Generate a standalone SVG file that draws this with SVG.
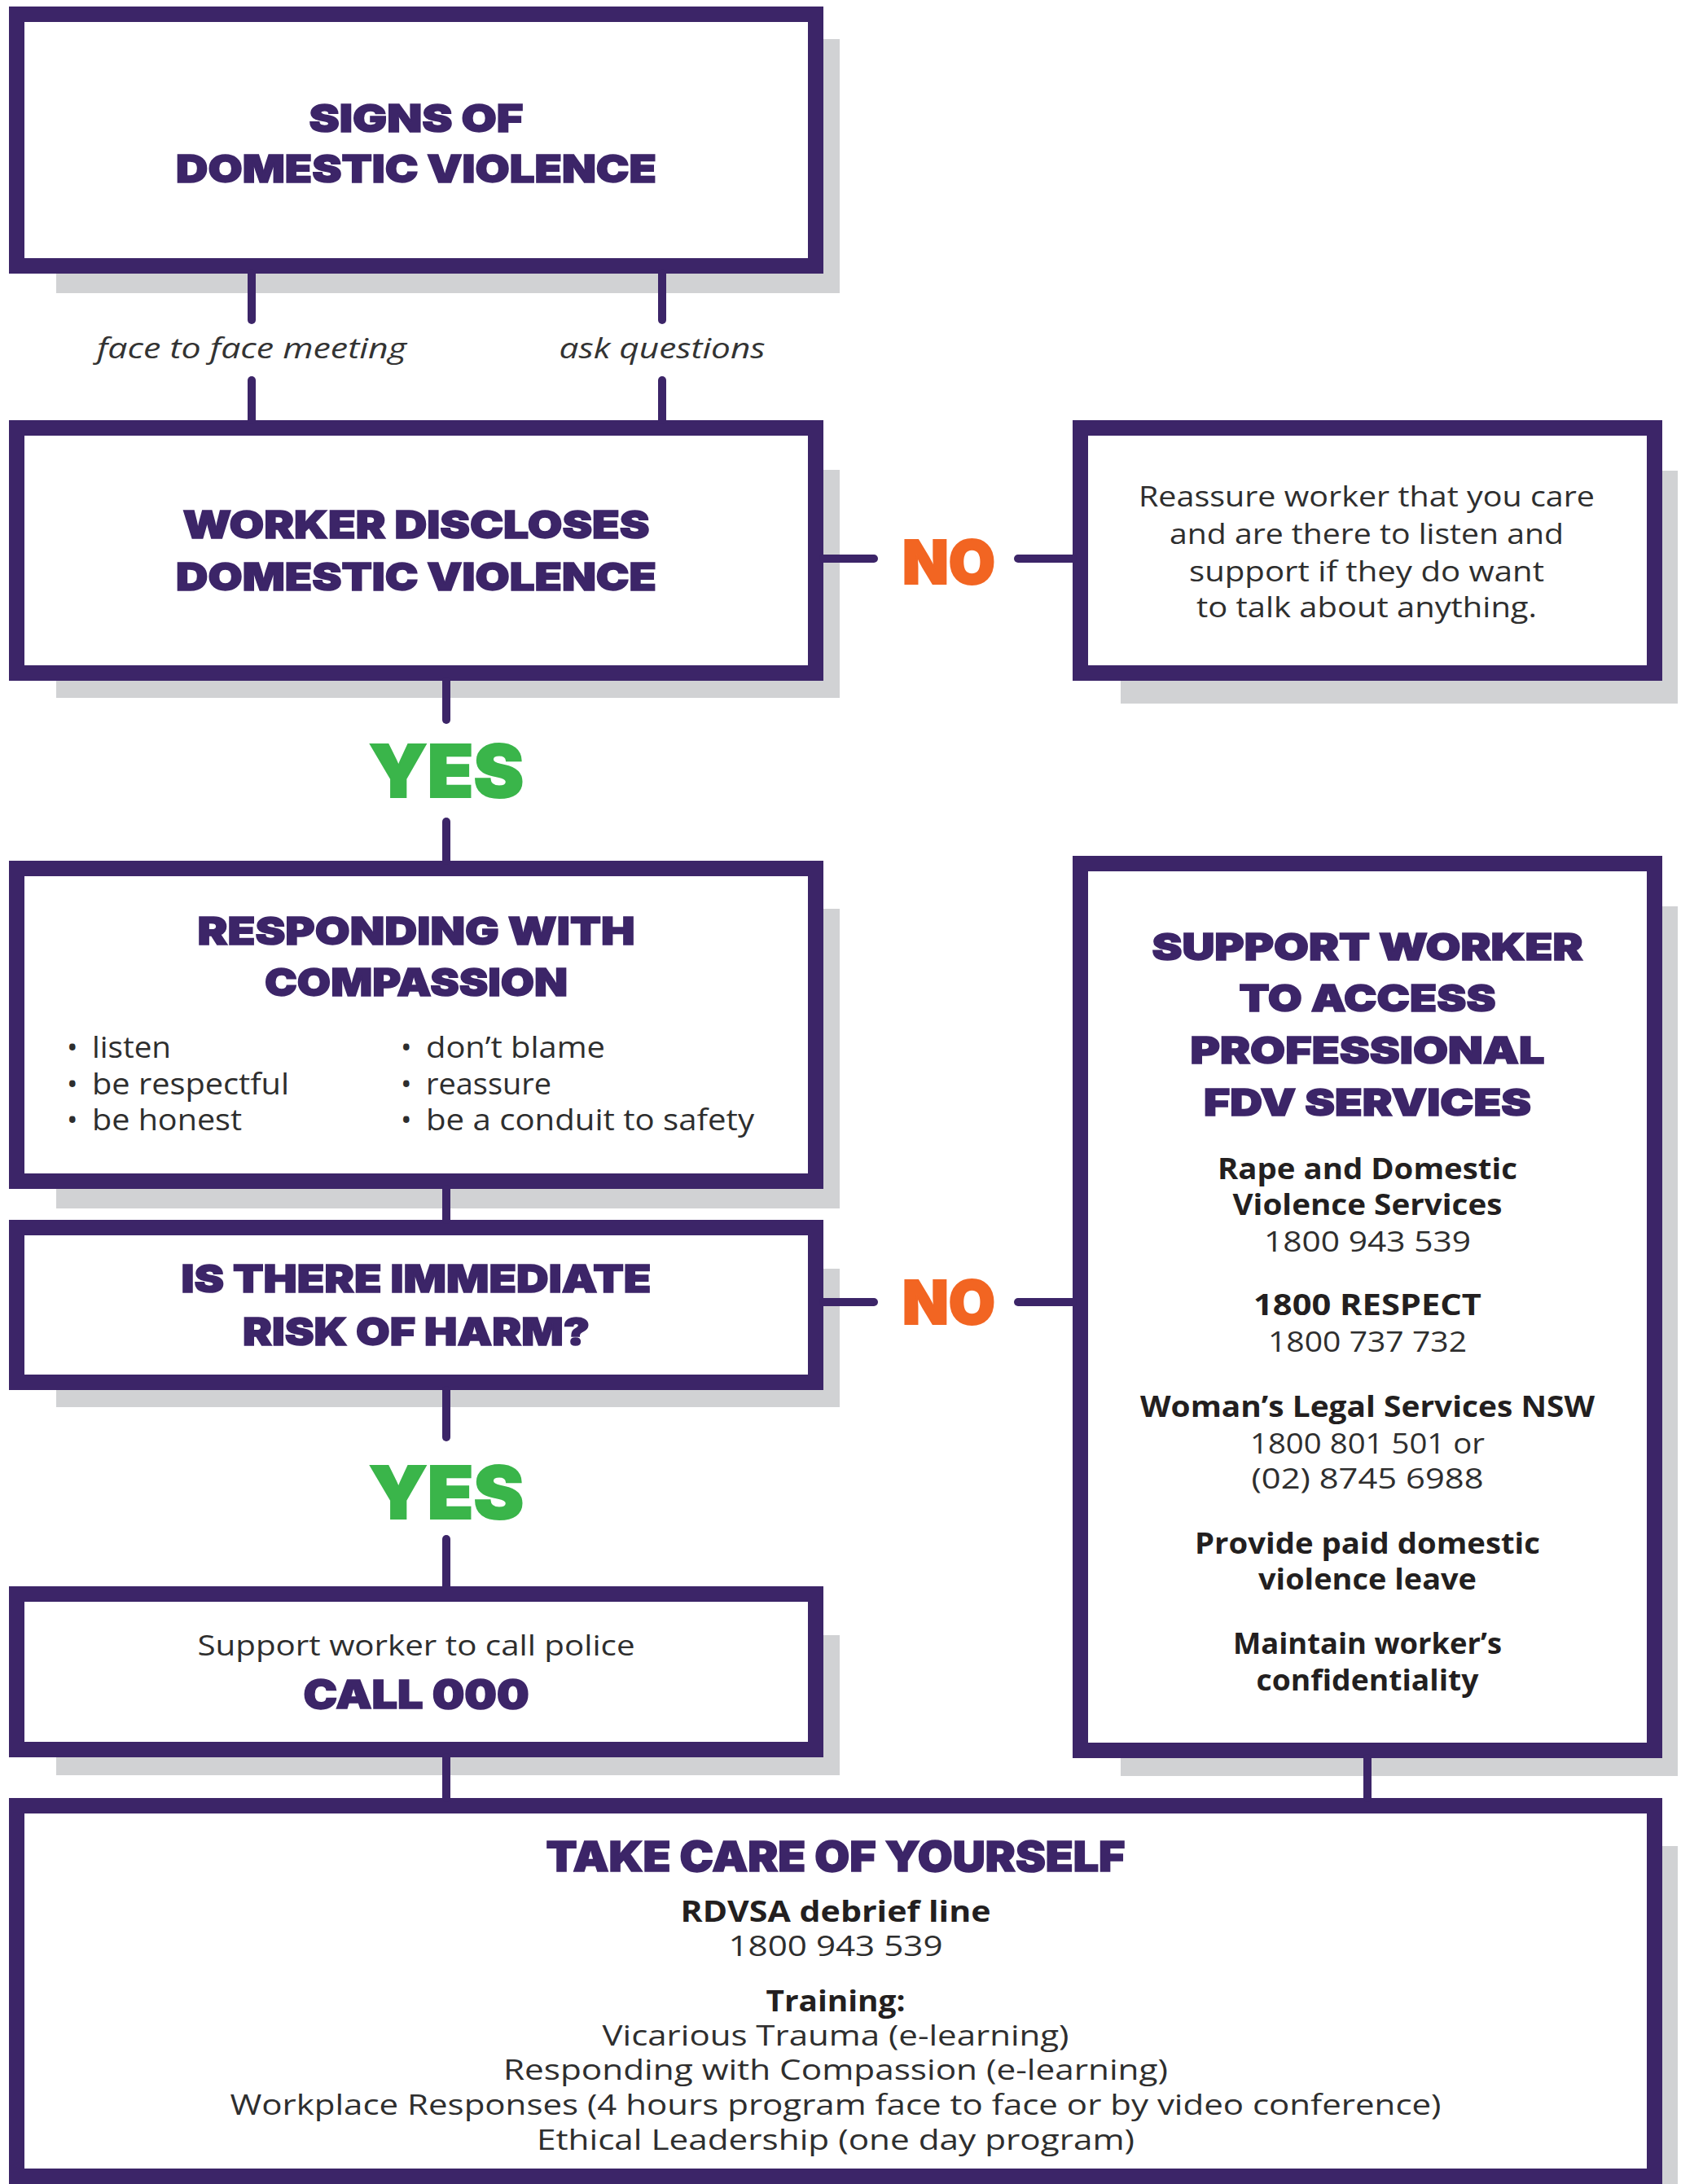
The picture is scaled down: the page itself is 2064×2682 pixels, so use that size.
<svg xmlns="http://www.w3.org/2000/svg" width="2064" height="2682" viewBox="0 0 2064 2682">
<style>
.bg{fill:#ffffff}
.sh{fill:#d1d2d4}
.box{fill:#ffffff;stroke:#3c2568;stroke-width:19}
.ln{stroke:#3c2568;stroke-width:10;stroke-linecap:round;fill:none}
.t{font-family:Inter,Lato,'Liberation Sans',sans-serif;font-weight:900;fill:#3c2568;stroke:#3c2568;stroke-width:1.5;text-anchor:middle}
.b{font-family:'Open Sans','Liberation Sans',sans-serif;font-size:35px;fill:#2e2e2e;text-anchor:middle}
.bb{font-family:'Open Sans','Liberation Sans',sans-serif;font-size:35px;font-weight:700;fill:#231f20;text-anchor:middle}
.bl{font-family:'Open Sans','Liberation Sans',sans-serif;font-size:36px;fill:#2e2e2e}
.it{font-family:'Open Sans','Liberation Sans',sans-serif;font-size:34px;font-style:italic;fill:#333333;text-anchor:middle}
.yes{font-family:Inter,Lato,'Liberation Sans',sans-serif;font-weight:900;font-size:89px;fill:#3ab54a;stroke:#3ab54a;stroke-width:2;text-anchor:middle}
.no{font-family:Inter,Lato,'Liberation Sans',sans-serif;font-weight:900;font-size:74px;fill:#f26522;stroke:#f26522;stroke-width:2;text-anchor:middle}
</style>
<rect class="bg" x="0" y="0" width="2064" height="2682"/>

<g id="node-signs">
<rect class="sh" x="69" y="48" width="962" height="312"/>
<rect class="box" x="20.5" y="17.5" width="981" height="309"/>
<text class="t" x="511" y="162" font-size="47" textLength="263" lengthAdjust="spacingAndGlyphs">SIGNS OF</text>
<text class="t" x="511" y="224" font-size="47" textLength="590" lengthAdjust="spacingAndGlyphs">DOMESTIC VIOLENCE</text>
</g>

<g id="node-discloses">
<rect class="sh" x="69" y="577" width="962" height="280"/>
<rect class="box" x="20.5" y="525.5" width="981" height="301"/>
<text class="t" x="511" y="661" font-size="47" textLength="573" lengthAdjust="spacingAndGlyphs">WORKER DISCLOSES</text>
<text class="t" x="511" y="725" font-size="47" textLength="590" lengthAdjust="spacingAndGlyphs">DOMESTIC VIOLENCE</text>
</g>

<g id="node-reassure">
<rect class="sh" x="1376" y="578" width="684" height="286"/>
<rect class="box" x="1326.5" y="525.5" width="705" height="301"/>
<text class="b" x="1678" y="622" textLength="560" lengthAdjust="spacingAndGlyphs">Reassure worker that you care</text>
<text class="b" x="1678" y="668" textLength="484" lengthAdjust="spacingAndGlyphs">and are there to listen and</text>
<text class="b" x="1678" y="714" textLength="436" lengthAdjust="spacingAndGlyphs">support if they do want</text>
<text class="b" x="1678" y="758" textLength="418" lengthAdjust="spacingAndGlyphs">to talk about anything.</text>
</g>

<g id="node-compassion">
<rect class="sh" x="69" y="1116" width="962" height="368"/>
<rect class="box" x="20.5" y="1066.5" width="981" height="384"/>
<text class="t" x="511" y="1160" font-size="47" textLength="537" lengthAdjust="spacingAndGlyphs">RESPONDING WITH</text>
<text class="t" x="511" y="1223" font-size="47" textLength="372" lengthAdjust="spacingAndGlyphs">COMPASSION</text>
<text class="bl" y="1299"><tspan x="82">•</tspan><tspan x="113" textLength="97" lengthAdjust="spacingAndGlyphs">listen</tspan></text>
<text class="bl" y="1344"><tspan x="82">•</tspan><tspan x="113" textLength="242" lengthAdjust="spacingAndGlyphs">be respectful</tspan></text>
<text class="bl" y="1388"><tspan x="82">•</tspan><tspan x="113" textLength="184" lengthAdjust="spacingAndGlyphs">be honest</tspan></text>
<text class="bl" y="1299"><tspan x="492">•</tspan><tspan x="523" textLength="220" lengthAdjust="spacingAndGlyphs">don’t blame</tspan></text>
<text class="bl" y="1344"><tspan x="492">•</tspan><tspan x="523" textLength="154" lengthAdjust="spacingAndGlyphs">reassure</tspan></text>
<text class="bl" y="1388"><tspan x="492">•</tspan><tspan x="523" textLength="403" lengthAdjust="spacingAndGlyphs">be a conduit to safety</tspan></text>
</g>

<g id="node-risk">
<rect class="sh" x="69" y="1558" width="962" height="170"/>
<rect class="box" x="20.5" y="1507.5" width="981" height="190"/>
<text class="t" x="511" y="1587" font-size="47" textLength="577" lengthAdjust="spacingAndGlyphs">IS THERE IMMEDIATE</text>
<text class="t" x="511" y="1652" font-size="47" textLength="426" lengthAdjust="spacingAndGlyphs">RISK OF HARM?</text>
</g>

<g id="node-support">
<rect class="sh" x="1376" y="1113" width="684" height="1068"/>
<rect class="box" x="1326.5" y="1060.5" width="705" height="1089"/>
<text class="t" x="1679" y="1179" font-size="45" textLength="529" lengthAdjust="spacingAndGlyphs">SUPPORT WORKER</text>
<text class="t" x="1679" y="1242" font-size="45" textLength="315" lengthAdjust="spacingAndGlyphs">TO ACCESS</text>
<text class="t" x="1679" y="1306" font-size="45" textLength="435" lengthAdjust="spacingAndGlyphs">PROFESSIONAL</text>
<text class="t" x="1679" y="1370" font-size="45" textLength="402" lengthAdjust="spacingAndGlyphs">FDV SERVICES</text>
<text class="bb" x="1679" y="1448" textLength="368" lengthAdjust="spacingAndGlyphs">Rape and Domestic</text>
<text class="bb" x="1679" y="1492" textLength="331" lengthAdjust="spacingAndGlyphs">Violence Services</text>
<text class="b" x="1679" y="1537" textLength="254" lengthAdjust="spacingAndGlyphs">1800 943 539</text>
<text class="bb" x="1679" y="1615" textLength="280" lengthAdjust="spacingAndGlyphs">1800 RESPECT</text>
<text class="b" x="1679" y="1660" textLength="244" lengthAdjust="spacingAndGlyphs">1800 737 732</text>
<text class="bb" x="1679" y="1740" textLength="558" lengthAdjust="spacingAndGlyphs">Woman’s Legal Services NSW</text>
<text class="b" x="1679" y="1785" textLength="288" lengthAdjust="spacingAndGlyphs">1800 801 501 or</text>
<text class="b" x="1679" y="1828" textLength="285" lengthAdjust="spacingAndGlyphs">(02) 8745 6988</text>
<text class="bb" x="1679" y="1908" textLength="424" lengthAdjust="spacingAndGlyphs">Provide paid domestic</text>
<text class="bb" x="1679" y="1952" textLength="268" lengthAdjust="spacingAndGlyphs">violence leave</text>
<text class="bb" x="1679" y="2031" textLength="330" lengthAdjust="spacingAndGlyphs">Maintain worker’s</text>
<text class="bb" x="1679" y="2076" textLength="273" lengthAdjust="spacingAndGlyphs">confidentiality</text>
</g>

<g id="node-police">
<rect class="sh" x="69" y="2008" width="962" height="172"/>
<rect class="box" x="20.5" y="1957.5" width="981" height="191"/>
<text class="b" x="511" y="2033" textLength="537" lengthAdjust="spacingAndGlyphs">Support worker to call police</text>
<text class="t" x="511" y="2098" font-size="48" textLength="277" lengthAdjust="spacingAndGlyphs">CALL 000</text>
</g>

<g id="node-selfcare">
<rect class="sh" x="69" y="2267" width="1991" height="415"/>
<rect class="box" x="20.5" y="2217.5" width="2011" height="455"/>
<text class="t" x="1026" y="2298" font-size="51" textLength="711" lengthAdjust="spacingAndGlyphs">TAKE CARE OF YOURSELF</text>
<text class="bb" x="1026" y="2360" textLength="381" lengthAdjust="spacingAndGlyphs">RDVSA debrief line</text>
<text class="b" x="1026" y="2402" textLength="263" lengthAdjust="spacingAndGlyphs">1800 943 539</text>
<text class="bb" x="1026" y="2470" textLength="171" lengthAdjust="spacingAndGlyphs">Training:</text>
<text class="b" x="1026" y="2512" textLength="573" lengthAdjust="spacingAndGlyphs">Vicarious Trauma (e-learning)</text>
<text class="b" x="1026" y="2554" textLength="816" lengthAdjust="spacingAndGlyphs">Responding with Compassion (e-learning)</text>
<text class="b" x="1026" y="2597" textLength="1487" lengthAdjust="spacingAndGlyphs">Workplace Responses (4 hours program face to face or by video conference)</text>
<text class="b" x="1026" y="2640" textLength="734" lengthAdjust="spacingAndGlyphs">Ethical Leadership (one day program)</text>
</g>

<g id="connectors">
<line class="ln" x1="309" y1="336" x2="309" y2="393"/>
<line class="ln" x1="309" y1="467" x2="309" y2="516"/>
<line class="ln" x1="813" y1="336" x2="813" y2="393"/>
<line class="ln" x1="813" y1="467" x2="813" y2="516"/>
<text class="it" x="309" y="440" textLength="380" lengthAdjust="spacingAndGlyphs">face to face meeting</text>
<text class="it" x="813" y="440" textLength="253" lengthAdjust="spacingAndGlyphs">ask questions</text>
<line class="ln" x1="1011" y1="686" x2="1073" y2="686"/>
<line class="ln" x1="1250" y1="686" x2="1317" y2="686"/>
<text class="no" x="1165" y="717" textLength="114" lengthAdjust="spacingAndGlyphs">NO</text>
<line class="ln" x1="548" y1="836" x2="548" y2="884"/>
<line class="ln" x1="548" y1="1009" x2="548" y2="1057"/>
<text class="yes" x="548" y="979" textLength="190" lengthAdjust="spacingAndGlyphs">YES</text>
<line class="ln" x1="548" y1="1460" x2="548" y2="1498"/>
<line class="ln" x1="1011" y1="1599" x2="1073" y2="1599"/>
<line class="ln" x1="1250" y1="1599" x2="1317" y2="1599"/>
<text class="no" x="1165" y="1626" textLength="114" lengthAdjust="spacingAndGlyphs">NO</text>
<line class="ln" x1="548" y1="1707" x2="548" y2="1765"/>
<line class="ln" x1="548" y1="1890" x2="548" y2="1948"/>
<text class="yes" x="548" y="1865" textLength="190" lengthAdjust="spacingAndGlyphs">YES</text>
<line class="ln" x1="548" y1="2158" x2="548" y2="2208"/>
<line class="ln" x1="1679" y1="2159" x2="1679" y2="2208"/>
</g>
</svg>
